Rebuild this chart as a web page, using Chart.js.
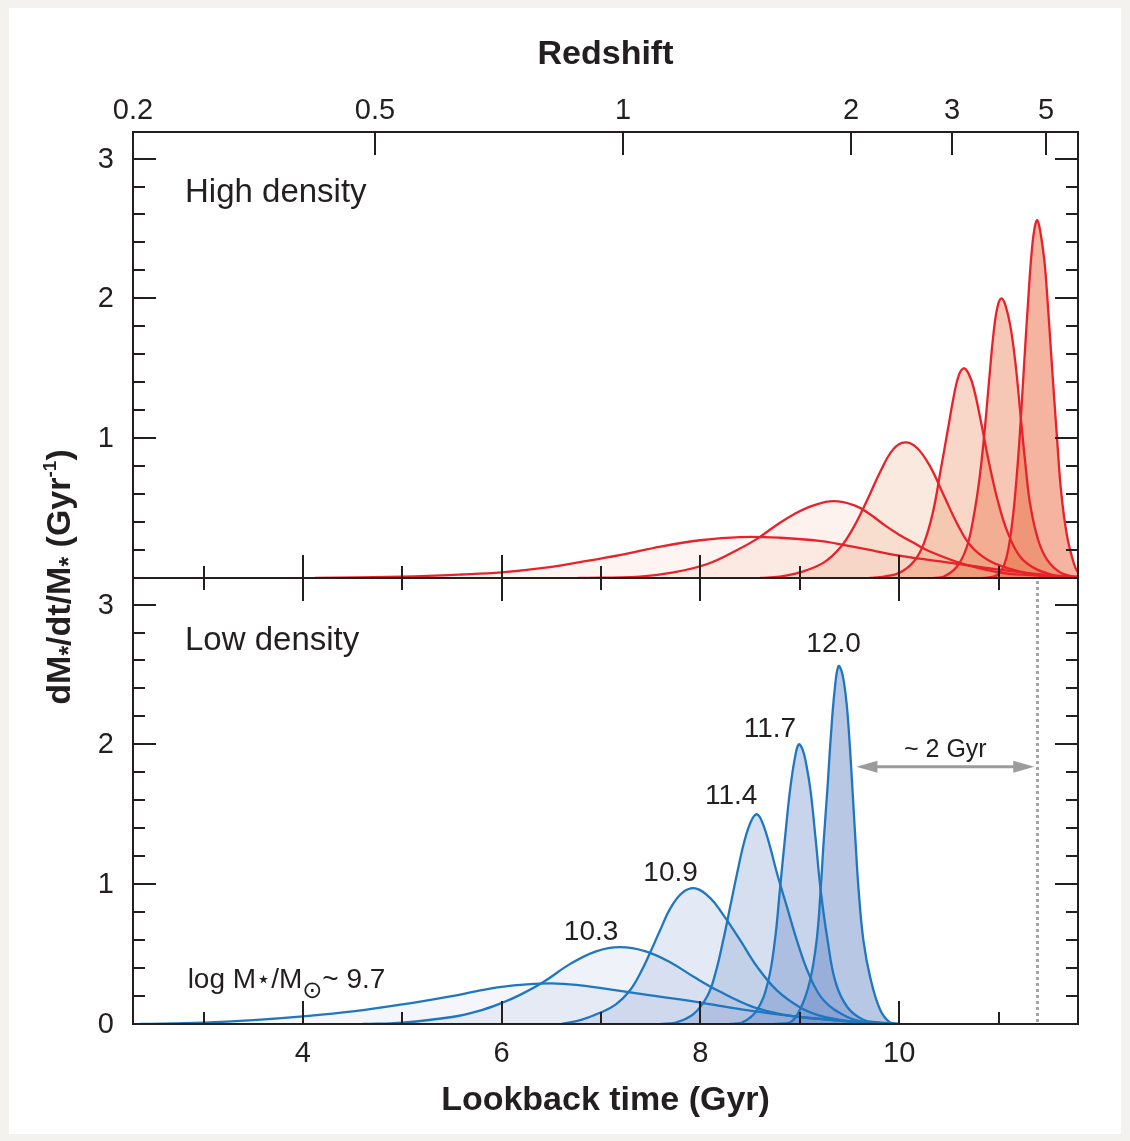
<!DOCTYPE html>
<html>
<head>
<meta charset="utf-8">
<script src="https://cdn.jsdelivr.net/npm/chart.js@4.4.1/dist/chart.umd.min.js"></script>
<style>
  html, body { margin: 0; padding: 0; background: #f4f2ef; }
  #wrap { position: relative; width: 1130px; height: 1141px; overflow: hidden; }
  #sheet { position: absolute; left: 9px; top: 8px; width: 1112px; height: 1126px; background: #fff; }
  canvas { position: absolute; left: 0; top: 0; }
</style>
</head>
<body>
<div id="wrap">
  <div id="sheet"></div>
  <canvas id="lowChart" width="1130" height="1141"></canvas>
  <canvas id="highChart" width="1130" height="1141"></canvas>
</div>
<script>
// shared axes
const T_MIN = 2.29, T_MAX = 11.8;   // lookback time (Gyr)
const V_MAX = 3.19;                 // dM/dt/M (Gyr^-1)

const massLabels = ['9.7', '10.3', '10.9', '11.4', '11.7', '12.0'];

// high density panel, [lookback time, rate]
const high97 = [[4.12,0],[5.0,0.01],[5.6,0.025],[6.0,0.04],[6.4,0.07],[6.8,0.115],[7.2,0.165],[7.6,0.225],[8.0,0.27],[8.4,0.293],[8.8,0.288],[9.2,0.265],[9.6,0.215],[10.0,0.16],[10.5,0.11],[11.0,0.06],[11.5,0.02],[11.8,0.01]];
const high103 = [[6.77,0],[7.39,0.01],[7.73,0.04],[8.07,0.1],[8.37,0.2],[8.57,0.28],[8.75,0.37],[8.95,0.46],[9.14,0.52],[9.34,0.55],[9.55,0.52],[9.7,0.46],[9.85,0.38],[10.0,0.31],[10.15,0.25],[10.31,0.19],[10.65,0.1],[11.0,0.04],[11.32,0.02],[11.65,0.01],[11.8,0]];
const high109 = [[8.6,0],[8.8,0.01],[9.0,0.04],[9.24,0.11],[9.41,0.22],[9.54,0.36],[9.68,0.56],[9.81,0.76],[9.94,0.92],[10.06,0.97],[10.18,0.93],[10.31,0.8],[10.45,0.59],[10.59,0.38],[10.72,0.23],[10.89,0.13],[11.09,0.07],[11.32,0.03],[11.65,0.005],[11.8,0]];
const high114 = [[9.7,0],[9.85,0.01],[10.01,0.04],[10.15,0.12],[10.25,0.25],[10.34,0.47],[10.42,0.78],[10.49,1.06],[10.55,1.3],[10.6,1.45],[10.65,1.5],[10.7,1.46],[10.75,1.36],[10.82,1.13],[10.9,0.84],[10.99,0.56],[11.09,0.33],[11.22,0.15],[11.39,0.06],[11.62,0.01],[11.8,0]];
const high117 = [[10.35,0],[10.45,0.01],[10.58,0.08],[10.68,0.22],[10.75,0.44],[10.81,0.72],[10.86,1.05],[10.91,1.45],[10.95,1.75],[10.99,1.94],[11.03,2.0],[11.07,1.95],[11.12,1.8],[11.17,1.54],[11.22,1.18],[11.27,0.82],[11.32,0.52],[11.4,0.27],[11.49,0.13],[11.62,0.04],[11.75,0.01],[11.8,0]];
const high120 = [[10.85,0],[10.95,0.01],[11.0,0.03],[11.05,0.08],[11.1,0.21],[11.15,0.47],[11.18,0.7],[11.21,0.98],[11.24,1.32],[11.27,1.67],[11.3,2.0],[11.33,2.3],[11.36,2.49],[11.39,2.56],[11.42,2.48],[11.46,2.28],[11.49,2.02],[11.53,1.6],[11.56,1.29],[11.59,0.99],[11.63,0.62],[11.69,0.3],[11.76,0.1],[11.8,0.04],[11.86,0]];

// low density panel
const low97 = [[2.36,0],[3.0,0.01],[3.5,0.028],[4.0,0.055],[4.5,0.09],[5.0,0.14],[5.5,0.2],[5.75,0.235],[6.0,0.265],[6.25,0.283],[6.5,0.29],[6.75,0.28],[7.02,0.255],[7.5,0.205],[8.03,0.15],[8.5,0.095],[9.0,0.05],[9.5,0.02],[9.8,0.01],[10.0,0]];
const low103 = [[4.6,0],[5.0,0.01],[5.5,0.05],[5.8,0.1],[6.0,0.15],[6.19,0.21],[6.42,0.3],[6.69,0.43],[6.95,0.52],[7.19,0.55],[7.45,0.52],[7.7,0.44],[7.95,0.33],[8.2,0.23],[8.5,0.13],[8.75,0.08],[9.0,0.05],[9.3,0.03],[9.6,0.01],[9.8,0]];
const low109 = [[6.6,0],[6.8,0.03],[6.99,0.08],[7.15,0.14],[7.29,0.24],[7.4,0.37],[7.5,0.52],[7.6,0.68],[7.7,0.83],[7.82,0.94],[7.95,0.97],[8.1,0.9],[8.23,0.78],[8.4,0.6],[8.57,0.41],[8.77,0.24],[9.0,0.12],[9.2,0.06],[9.4,0.03],[9.6,0.01],[9.75,0]];
const low114 = [[7.6,0],[7.75,0.01],[7.93,0.07],[8.07,0.2],[8.15,0.36],[8.23,0.6],[8.3,0.84],[8.37,1.08],[8.44,1.3],[8.51,1.45],[8.57,1.5],[8.63,1.43],[8.7,1.27],[8.77,1.08],[8.87,0.84],[8.97,0.6],[9.09,0.36],[9.24,0.17],[9.48,0.05],[9.68,0.01],[9.8,0]];
const low117 = [[8.3,0],[8.42,0.01],[8.57,0.1],[8.68,0.3],[8.75,0.6],[8.8,0.96],[8.85,1.32],[8.9,1.66],[8.95,1.9],[8.99,2.0],[9.03,1.96],[9.07,1.84],[9.11,1.66],[9.16,1.32],[9.21,0.96],[9.28,0.6],[9.36,0.3],[9.48,0.12],[9.64,0.03],[9.8,0.01],[9.9,0]];
const low120 = [[8.75,0],[8.9,0.01],[9.0,0.1],[9.1,0.3],[9.17,0.6],[9.21,0.96],[9.24,1.3],[9.28,1.7],[9.31,2.03],[9.35,2.38],[9.39,2.56],[9.43,2.5],[9.47,2.3],[9.5,2.03],[9.53,1.68],[9.56,1.32],[9.59,0.98],[9.64,0.6],[9.71,0.33],[9.81,0.1],[9.91,0.01],[10.0,0]];

// axis ticks
const redshiftLabels = ['0.2', '0.5', '1', '2', '3', '5'];
const redshiftAt = [2.29, 4.725, 7.22, 9.52, 10.53, 11.48];
const timeTicks = [3, 4, 5, 6, 7, 8, 9, 10, 11];
const timeLabels = [4, 6, 8, 10];
const rateLabels = [0, 1, 2, 3];
const rateMinorStep = 0.2;

// annotations (data units)
const quenchTime = 11.39;
const gapArrow = { from: 9.57, to: 11.36, at: 1.84 };
const massLabelAt = [[2.84, 0.26], [6.9, 0.6], [7.7, 1.02], [8.31, 1.57], [8.7, 2.05], [9.34, 2.66]];

const FONT = '"Liberation Sans", Arial, Helvetica, "DejaVu Sans", sans-serif';
const INK = '#231f20';
const RED_LINE = '#e8222b';
const BLUE_LINE = '#1f77bf';
const redFill = ['240,120,90,0.07', '235,110,50,0.09', '222,127,61,0.17', '229,100,45,0.26', '232,100,50,0.36', '235,105,65,0.5'];
const blueFill = ['95,130,195,0.07', '95,130,195,0.10', '95,130,195,0.17', '95,130,195,0.26', '95,130,195,0.34', '95,130,195,0.45'];

function toPoints(pairs) {
    return pairs.map(p => ({ x: p[0], y: p[1] }));
}

function tickLine(ctx, x1, y1, x2, y2) {
    ctx.beginPath();
    ctx.moveTo(x1, y1);
    ctx.lineTo(x2, y2);
    ctx.stroke();
}

function richText(ctx, parts, x, y, align) {
    let w = 0;
    parts.forEach(p => { ctx.font = p.font; w += ctx.measureText(p.text).width; });
    let cx = align === 'center' ? x - w / 2 : x;
    ctx.textAlign = 'left';
    ctx.textBaseline = 'alphabetic';
    parts.forEach(p => {
        ctx.font = p.font;
        ctx.fillText(p.text, cx, y + (p.dy || 0));
        cx += ctx.measureText(p.text).width;
    });
}

// frame, inward ticks on both y sides
function drawFrameAndRate(ctx, a, y, showZero) {
    ctx.lineWidth = 2;
    ctx.strokeStyle = INK;
    ctx.strokeRect(a.left, a.top, a.right - a.left, a.bottom - a.top);
    for (let v = 0; v <= 3.001; v += rateMinorStep) {
        const py = Math.round(y.getPixelForValue(v));
        const major = Math.abs(v - Math.round(v)) < 0.01;
        const len = major ? 23 : 12;
        tickLine(ctx, a.left, py, a.left + len, py);
        tickLine(ctx, a.right, py, a.right - len, py);
    }
    ctx.fillStyle = INK;
    ctx.font = `29px ${FONT}`;
    ctx.textAlign = 'right';
    ctx.textBaseline = 'middle';
    rateLabels.forEach(v => {
        if (v === 0 && !showZero) return;
        ctx.fillText(String(v), a.left - 19, y.getPixelForValue(v) + 1);
    });
}

function drawTimeTicks(ctx, x, edgeY, dir) {
    timeTicks.forEach(t => {
        const px = Math.round(x.getPixelForValue(t));
        const len = t % 2 === 0 ? 23 : 12;
        tickLine(ctx, px, edgeY, px, edgeY + dir * len);
    });
}

const highPanel = {
    id: 'highPanel',
    afterDatasetsDraw(chart) {
        const { ctx, chartArea: a } = chart;
        const x = chart.scales.x, y = chart.scales.y;
        ctx.save();
        drawFrameAndRate(ctx, a, y, false);
        drawTimeTicks(ctx, x, a.bottom, -1);
        redshiftAt.forEach((t, i) => {
            const px = Math.round(x.getPixelForValue(t));
            if (i > 0) tickLine(ctx, px, a.top, px, a.top + 23);
            ctx.font = `29px ${FONT}`;
            ctx.textAlign = 'center';
            ctx.textBaseline = 'alphabetic';
            ctx.fillText(redshiftLabels[i], px, 119);
        });
        ctx.font = `bold 34px ${FONT}`;
        ctx.textAlign = 'center';
        ctx.fillText('Redshift', (a.left + a.right) / 2, 64);
        ctx.font = `33px ${FONT}`;
        ctx.textAlign = 'left';
        ctx.fillText('High density', 185, 202);

        // shared y title
        ctx.translate(70, 577);
        ctx.rotate(-Math.PI / 2);
        const big = `bold 34px ${FONT}`, small = `bold 25px ${FONT}`, sup = `bold 19px ${FONT}`;
        richText(ctx, [
            { text: 'dM', font: big },
            { text: '*', font: small, dy: 7 },
            { text: '/dt/M', font: big },
            { text: '*', font: small, dy: 7 },
            { text: ' (Gyr', font: big },
            { text: '-1', font: sup, dy: -14 },
            { text: ')', font: big }
        ], 0, 0, 'center');
        ctx.restore();
    }
};

const lowPanel = {
    id: 'lowPanel',
    afterDatasetsDraw(chart) {
        const { ctx, chartArea: a } = chart;
        const x = chart.scales.x, y = chart.scales.y;
        ctx.save();

        // dotted reference line
        const qx = Math.round(x.getPixelForValue(quenchTime)) + 0.5;
        ctx.strokeStyle = '#a5a5a5';
        ctx.lineWidth = 3;
        ctx.setLineDash([3, 3]);
        tickLine(ctx, qx, a.top + 3, qx, a.bottom - 2);
        ctx.setLineDash([]);

        // ~2 Gyr arrow
        const ay = y.getPixelForValue(gapArrow.at);
        const x1 = x.getPixelForValue(gapArrow.from), x2 = x.getPixelForValue(gapArrow.to);
        ctx.strokeStyle = '#9b9b9b';
        ctx.fillStyle = '#9b9b9b';
        tickLine(ctx, x1 + 14, ay, x2 - 14, ay);
        ctx.beginPath();
        ctx.moveTo(x1, ay); ctx.lineTo(x1 + 21, ay - 6); ctx.lineTo(x1 + 21, ay + 6); ctx.closePath();
        ctx.fill();
        ctx.beginPath();
        ctx.moveTo(x2, ay); ctx.lineTo(x2 - 21, ay - 6); ctx.lineTo(x2 - 21, ay + 6); ctx.closePath();
        ctx.fill();
        ctx.fillStyle = INK;
        ctx.font = `25px ${FONT}`;
        ctx.textAlign = 'center';
        ctx.textBaseline = 'alphabetic';
        ctx.fillText('~ 2 Gyr', (x1 + x2) / 2, ay - 10);

        drawFrameAndRate(ctx, a, y, true);
        ctx.strokeStyle = INK;
        ctx.lineWidth = 2;
        drawTimeTicks(ctx, x, a.top, 1);
        drawTimeTicks(ctx, x, a.bottom, -1);

        ctx.fillStyle = INK;
        ctx.font = `29px ${FONT}`;
        ctx.textAlign = 'center';
        ctx.textBaseline = 'alphabetic';
        timeLabels.forEach(t => ctx.fillText(String(t), x.getPixelForValue(t), 1062));
        ctx.font = `bold 34px ${FONT}`;
        ctx.fillText('Lookback time (Gyr)', (a.left + a.right) / 2, 1110);
        ctx.font = `33px ${FONT}`;
        ctx.textAlign = 'left';
        ctx.fillText('Low density', 185, 650);

        // mass labels
        ctx.font = `28px ${FONT}`;
        massLabelAt.forEach((pos, i) => {
            const px = x.getPixelForValue(pos[0]), py = y.getPixelForValue(pos[1]);
            if (i === 0) {
                const f = `28px ${FONT}`, fs = `24px "DejaVu Sans", ${FONT}`;
                richText(ctx, [
                    { text: 'log M', font: f },
                    { text: '\u22C6', font: fs, dy: -1 },
                    { text: '/M', font: f },
                    { text: '\u2299', font: fs, dy: 10 },
                    { text: '~ ' + massLabels[i], font: f }
                ], px, py, 'left');
            } else {
                ctx.textAlign = 'center';
                ctx.fillText(massLabels[i], px, py);
            }
        });
        ctx.restore();
    }
};

function makeChart(canvasId, curves, lineColor, fills, padding, plugin) {
    return new Chart(document.getElementById(canvasId), {
        type: 'line',
        data: {
            datasets: curves.map((c, i) => ({
                label: massLabels[i],
                data: toPoints(c),
                borderColor: lineColor,
                backgroundColor: `rgba(${fills[i]})`,
                borderWidth: 2.3,
                pointRadius: 0,
                tension: 0.4,
                fill: 'origin'
            }))
        },
        options: {
            responsive: false,
            animation: false,
            devicePixelRatio: 1,
            layout: { padding: padding },
            scales: {
                x: { type: 'linear', min: T_MIN, max: T_MAX, display: false },
                y: { type: 'linear', min: 0, max: V_MAX, display: false }
            },
            plugins: {
                legend: { display: false },
                tooltip: { enabled: false },
                filler: { drawTime: 'beforeDatasetsDraw' }
            }
        },
        plugins: [plugin]
    });
}

makeChart('lowChart', [low97, low103, low109, low114, low117, low120], BLUE_LINE, blueFill,
    { left: 133, right: 52, top: 578, bottom: 117 }, lowPanel);
makeChart('highChart', [high97, high103, high109, high114, high117, high120], RED_LINE, redFill,
    { left: 133, right: 52, top: 132, bottom: 563 }, highPanel);
</script>
</body>
</html>
